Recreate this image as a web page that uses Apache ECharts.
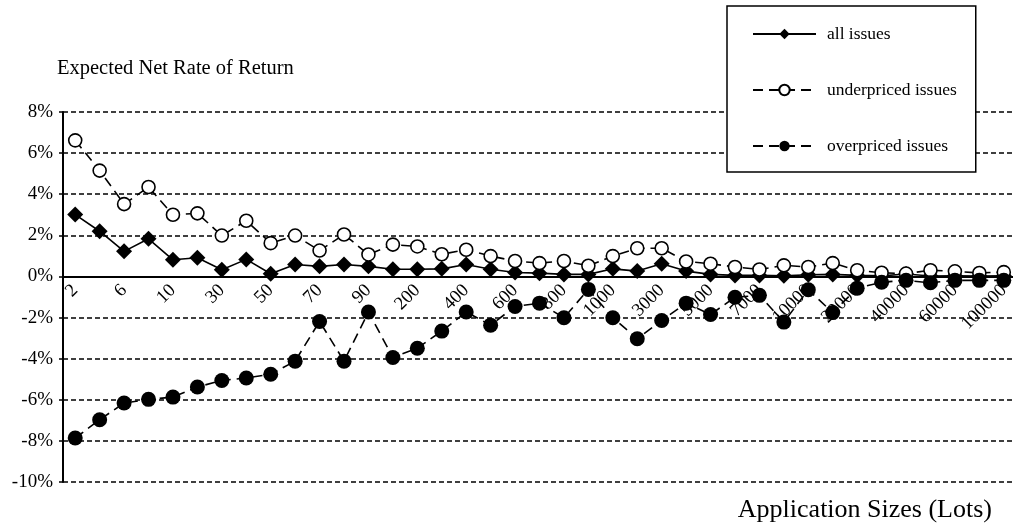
<!DOCTYPE html>
<html>
<head>
<meta charset="utf-8">
<script src="https://cdn.jsdelivr.net/npm/echarts@6/dist/echarts.min.js"></script>
<style>
  html, body { margin: 0; padding: 0; background: #fff; }
  #chart { width: 1013px; height: 531px; }
</style>
</head>
<body>
<div id="chart"></div>
<script>
// application sizes in lots
const sizes = ['2', '4', '6', '8', '10', '20', '30', '40', '50', '60', '70', '80', '90', '100',
  '200', '300', '400', '500', '600', '700', '800', '900', '1000',
  '2000', '3000', '4000', '5000', '6000', '7000', '8000', '10000', '15000',
  '20000', '30000', '40000', '50000', '60000', '80000', '100000']

// expected net rate of return, %
const allIssues = [3.01, 2.2, 1.22, 1.83, 0.81, 0.91, 0.33, 0.83, 0.13, 0.58, 0.49, 0.58, 0.49, 0.35,
  0.35, 0.37, 0.58, 0.35, 0.19, 0.16, 0.1, 0.1, 0.37, 0.26, 0.62, 0.26, 0.1, 0.05, 0.05, 0.03,
  0.08, 0.1, 0.05, 0.03, 0.12, 0.02, 0.03, 0.02, 0.03]
const underpriced = [6.62, 5.15, 3.52, 4.35, 3.0, 3.07, 1.99, 2.71, 1.62, 1.99, 1.26, 2.04, 1.07, 1.55,
  1.46, 1.08, 1.3, 0.99, 0.75, 0.65, 0.75, 0.52, 0.99, 1.37, 1.37, 0.73, 0.62, 0.46, 0.34, 0.54,
  0.46, 0.65, 0.3, 0.18, 0.14, 0.3, 0.25, 0.17, 0.21]
const overpriced = [-7.86, -6.97, -6.16, -5.98, -5.87, -5.38, -5.06, -4.94, -4.76, -4.12, -2.19, -4.12, -1.73, -3.94,
  -3.49, -2.66, -1.73, -2.37, -1.46, -1.3, -2.01, -0.63, -2.01, -3.03, -2.14, -1.3, -1.85, -1.01, -0.92, -2.22,
  -0.65, -1.76, -0.57, -0.28, -0.19, -0.31, -0.19, -0.19, -0.19]

const yMin = -10
const yMax = 8

const FONT = '"Liberation Serif", "Times New Roman", serif'
const W = 1013, H = 531
const GRID = { left: 63, right: -3, top: 112, bottom: 49 }
// the category axis sits on the 0% line: shift it up from the grid bottom
const plotH = H - GRID.top - GRID.bottom
const zeroOffset = -plotH * (0 - yMin) / (yMax - yMin)

const chart = echarts.init(document.getElementById('chart'))

chart.setOption({
  animation: false,
  textStyle: { fontFamily: FONT, color: '#000' },
  title: [
    { text: 'Expected Net Rate of Return', left: 57, top: 58, padding: 0,
      textStyle: { fontFamily: FONT, fontSize: 20.5, fontWeight: 'normal', color: '#000' } },
    { text: 'Application Sizes (Lots)', right: 21, top: 497, padding: 0,
      textStyle: { fontFamily: FONT, fontSize: 26, fontWeight: 'normal', color: '#000' } }
  ],
  legend: {
    orient: 'vertical',
    left: 727,
    top: 6,
    padding: [19, 19, 17, 25],
    itemGap: 38,
    itemWidth: 63,
    itemHeight: 13,
    backgroundColor: '#fff',
    borderColor: '#000',
    borderWidth: 1.5,
    borderRadius: 0,
    textStyle: { fontFamily: FONT, fontSize: 17.5, color: '#000', padding: [0, 0, 0, 6] },
    data: ['all issues', 'underpriced issues', 'overpriced issues']
  },
  grid: Object.assign({ outerBoundsMode: 'none' }, GRID),
  xAxis: [
    {
      type: 'category',
      data: sizes,
      offset: zeroOffset,
      axisLine: { onZero: false, lineStyle: { color: '#000', width: 2 } },
      axisTick: { length: 5, lineStyle: { color: '#000', width: 1.5 } },
      axisLabel: { interval: 1, rotate: 45, margin: 11, fontFamily: FONT, fontSize: 18.5, color: '#000' }
    },
    {
      // second axis only for the ticks crossing the zero line upward
      type: 'category',
      data: sizes,
      position: 'bottom',
      offset: zeroOffset,
      axisLine: { show: false, onZero: false },
      axisTick: { inside: true, length: 5, lineStyle: { color: '#000', width: 1.5 } },
      axisLabel: { show: false }
    }
  ],
  yAxis: {
    type: 'value',
    min: yMin,
    max: yMax,
    interval: 2,
    axisLine: { show: true, lineStyle: { color: '#000', width: 2 } },
    axisTick: { show: true, length: 4, lineStyle: { color: '#000', width: 1.5 } },
    axisLabel: { formatter: v => v + '%', margin: 10, fontFamily: FONT, fontSize: 19, color: '#000' },
    splitLine: { lineStyle: { color: '#000', width: 1.6, type: [5, 3] } }
  },
  series: [
    {
      name: 'all issues',
      type: 'line',
      data: allIssues,
      symbol: 'diamond',
      symbolSize: 16,
      lineStyle: { color: '#000', width: 1.6 },
      itemStyle: { color: '#000' }
    },
    {
      name: 'underpriced issues',
      type: 'line',
      data: underpriced,
      symbol: 'circle',
      symbolSize: 13,
      lineStyle: { color: '#000', width: 1.6, type: [10, 6] },
      itemStyle: { color: '#fff', borderColor: '#000', borderWidth: 1.6 }
    },
    {
      name: 'overpriced issues',
      type: 'line',
      data: overpriced,
      symbol: 'circle',
      symbolSize: 15,
      lineStyle: { color: '#000', width: 1.6, type: [10, 6] },
      itemStyle: { color: '#000' }
    }
  ]
})
</script>
</body>
</html>
